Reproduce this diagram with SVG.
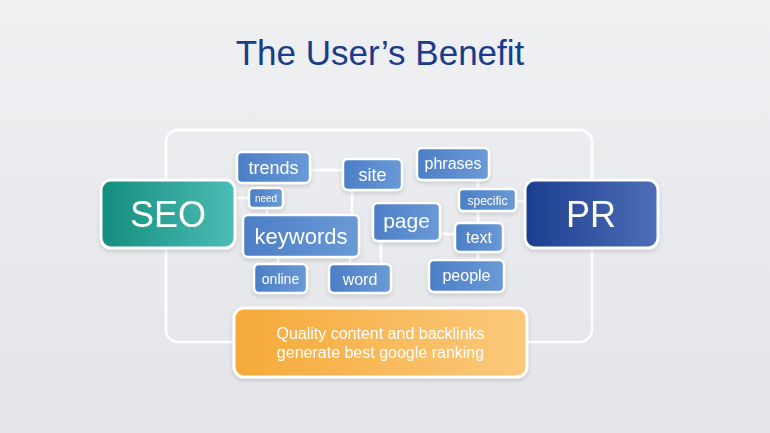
<svg xmlns="http://www.w3.org/2000/svg" width="770" height="433" viewBox="0 0 770 433">
<defs>
<linearGradient id="bg" x1="0" y1="0" x2="0" y2="1"><stop offset="0" stop-color="#eef0f2"/><stop offset="1" stop-color="#e3e5e9"/></linearGradient>
<linearGradient id="teal" x1="0" y1="0" x2="1" y2="0"><stop offset="0" stop-color="#138d7d"/><stop offset="1" stop-color="#4dbdb5"/></linearGradient>
<linearGradient id="navy" x1="0" y1="0" x2="1" y2="0"><stop offset="0" stop-color="#1c3d91"/><stop offset="1" stop-color="#4e6fb6"/></linearGradient>
<linearGradient id="blue" x1="0" y1="0" x2="1" y2="0"><stop offset="0" stop-color="#4b7ec6"/><stop offset="1" stop-color="#6a9ad6"/></linearGradient>
<linearGradient id="orange" x1="0" y1="0" x2="1" y2="0"><stop offset="0" stop-color="#f5aa38"/><stop offset="1" stop-color="#fbc97c"/></linearGradient>
<filter id="sh" x="-20%" y="-20%" width="140%" height="150%"><feDropShadow dx="0" dy="2" stdDeviation="2" flood-color="#000" flood-opacity="0.15"/></filter>
</defs>
<style>
.ln{stroke:#ffffff;stroke-width:2.5;fill:none}
.big{stroke:#ffffff;stroke-width:3}
.sm{fill:url(#blue);stroke:#ffffff;stroke-width:2.5}
.t{font-family:"Liberation Sans",Arial,sans-serif;fill:#ffffff;text-anchor:middle}
</style>
<rect width="770" height="433" fill="url(#bg)"/>
<text x="380" y="65" font-family="Liberation Sans,Arial,sans-serif" font-size="35" fill="#1b3b8b" text-anchor="middle">The User’s Benefit</text>
<g id="connectors">
<rect class="ln" x="166" y="130" width="426" height="212" rx="12"/>
<line class="ln" x1="235" y1="198" x2="249" y2="198"/>
<line class="ln" x1="310" y1="170" x2="343" y2="170"/>
<line class="ln" x1="267" y1="208" x2="267" y2="215"/>
<line class="ln" x1="278" y1="257" x2="278" y2="264"/>
<line class="ln" x1="352" y1="190" x2="352" y2="215"/>
<line class="ln" x1="350" y1="257" x2="350" y2="264"/>
<line class="ln" x1="381" y1="241" x2="381" y2="264"/>
<line class="ln" x1="440" y1="234" x2="455" y2="234"/>
<line class="ln" x1="478" y1="180" x2="478" y2="260"/>
<line class="ln" x1="516" y1="201" x2="525" y2="201"/>
</g>
<g id="seo" filter="url(#sh)"><rect class="big" x="101" y="180" width="134" height="68" rx="10" fill="url(#teal)"/><text class="t" x="168" y="227" font-size="36">SEO</text></g>
<g id="pr" filter="url(#sh)"><rect class="big" x="525" y="180" width="133" height="68" rx="10" fill="url(#navy)"/><text class="t" x="591" y="227" font-size="36">PR</text></g>
<g id="trends" filter="url(#sh)"><rect class="sm" x="237" y="152" width="73" height="31" rx="5"/><text class="t" x="273.5" y="174" font-size="18">trends</text></g>
<g id="need" filter="url(#sh)"><rect class="sm" x="249" y="188" width="34" height="20" rx="4"/><text class="t" x="266" y="202" font-size="10">need</text></g>
<g id="keywords" filter="url(#sh)"><rect class="sm" x="243" y="215" width="116" height="42" rx="5"/><text class="t" x="301" y="244" font-size="22">keywords</text></g>
<g id="online" filter="url(#sh)"><rect class="sm" x="254" y="264" width="53" height="29" rx="5"/><text class="t" x="280.5" y="284" font-size="14">online</text></g>
<g id="word" filter="url(#sh)"><rect class="sm" x="329" y="264" width="62" height="29" rx="5"/><text class="t" x="360" y="285" font-size="16">word</text></g>
<g id="site" filter="url(#sh)"><rect class="sm" x="343" y="159" width="59" height="31" rx="5"/><text class="t" x="372.5" y="181" font-size="18">site</text></g>
<g id="page" filter="url(#sh)"><rect class="sm" x="373" y="203" width="67" height="38" rx="5"/><text class="t" x="406.5" y="228" font-size="21">page</text></g>
<g id="phrases" filter="url(#sh)"><rect class="sm" x="417" y="148" width="72" height="32" rx="5"/><text class="t" x="453" y="169" font-size="16">phrases</text></g>
<g id="specific" filter="url(#sh)"><rect class="sm" x="459" y="189" width="57" height="22" rx="4"/><text class="t" x="487.5" y="204.5" font-size="12">specific</text></g>
<g id="text" filter="url(#sh)"><rect class="sm" x="455" y="223" width="48" height="29" rx="5"/><text class="t" x="479" y="243" font-size="16">text</text></g>
<g id="people" filter="url(#sh)"><rect class="sm" x="429" y="260" width="75" height="32" rx="5"/><text class="t" x="466.5" y="281" font-size="16">people</text></g>
<g id="benefit" filter="url(#sh)"><rect class="big" x="234" y="308" width="293" height="69" rx="10" fill="url(#orange)"/><text class="t" x="380.5" y="339" font-size="16" fill="#fff8ea">Quality content and backlinks</text><text class="t" x="380.5" y="358" font-size="16" fill="#fff8ea">generate best google ranking</text></g>
</svg>
